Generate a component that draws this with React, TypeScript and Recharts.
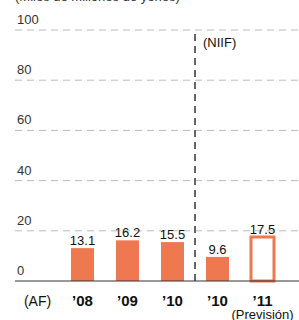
import { BarChart, Bar, XAxis, YAxis, CartesianGrid, ReferenceLine, Cell, LabelList } from 'recharts'

const keys = ['af', 'y08', 'y09', 'y10a', 'y10b', 'y11']
const tickLabels = ['(AF)', '\u201908', '\u201909', '\u201910', '\u201910', '\u201911']
const values: (number | null)[] = [null, 13.1, 16.2, 15.5, 9.6, 17.5]
const yTicks = [0, 20, 40, 60, 80, 100]

const ORANGE = '#ee7950'
const FONT = '"Liberation Sans", Arial, sans-serif'

const data = keys.map((k, i) => ({ key: k, value: values[i] }))

function XTick({ x, y, payload }: any) {
  const i = keys.indexOf(payload.value)
  const label = tickLabels[i] ?? ''
  const plain = i === 0
  return (
    <g>
      <text x={x} y={y + 17} textAnchor="middle" fontFamily={FONT} fontSize={plain ? 14 : 15}
        fontWeight={plain ? 'normal' : 'bold'} fill="#111">
        {label}
      </text>
      {i === keys.length - 1 && (
        <text x={x} y={y + 30} textAnchor="middle" fontFamily={FONT} fontSize={13} fill="#111">
          (Previsión)
        </text>
      )}
    </g>
  )
}

function YTick({ y, payload }: any) {
  return (
    <text x={17} y={y - 6} fontFamily={FONT} fontSize={13} fill="#333">
      {payload.value}
    </text>
  )
}

function ValueLabel({ x, y, width, value, index }: any) {
  if (value == null) return null
  const last = index === keys.length - 1
  return (
    <text x={x + width / 2} y={y - (last ? 6 : 3)} textAnchor="middle" fontFamily={FONT} fontSize={13}
      fill={last ? ORANGE : '#111'}>
      {value}
    </text>
  )
}

export default function App() {
  return (
    <div style={{ position: 'absolute', left: 0, top: 0, width: 299, height: 320 }}>
      <BarChart width={299} height={320} data={data} margin={{ top: 30, right: 0, bottom: 0, left: 0 }}>
        <text x={15} y={1} fontFamily={FONT} fontSize={13} fill="#333">(Miles de millones de yenes)</text>
        <CartesianGrid vertical={false} stroke="#bbb" strokeDasharray="7 5" horizontalValues={[20, 40, 60, 80, 100]} />
        <XAxis dataKey="key" padding={{ left: 0, right: 14 }} tickLine={false} axisLine={{ stroke: '#333', strokeWidth: 1 }}
          tick={<XTick />} interval={0} height={39} />
        <YAxis domain={[0, 100]} ticks={yTicks} width={15} axisLine={false} tickLine={false} tick={<YTick />} />
        <ReferenceLine x="y10b" position="start" stroke="#666" strokeWidth={2} strokeDasharray="7 5"
          label={{ value: '(NIIF)', position: 'insideTopLeft', offset: 0, dx: 8, dy: 8, fill: '#111', fontSize: 13, fontFamily: FONT }} />
        <Bar dataKey="value" barSize={23} isAnimationActive={false}>
          {data.map((d, i) => (
            <Cell key={d.key} fill={i === keys.length - 1 ? '#fff' : ORANGE}
              stroke={i === keys.length - 1 ? ORANGE : 'none'} strokeWidth={i === keys.length - 1 ? 3 : 0} />
          ))}
          <LabelList dataKey="value" content={<ValueLabel />} />
        </Bar>
      </BarChart>
    </div>
  )
}
